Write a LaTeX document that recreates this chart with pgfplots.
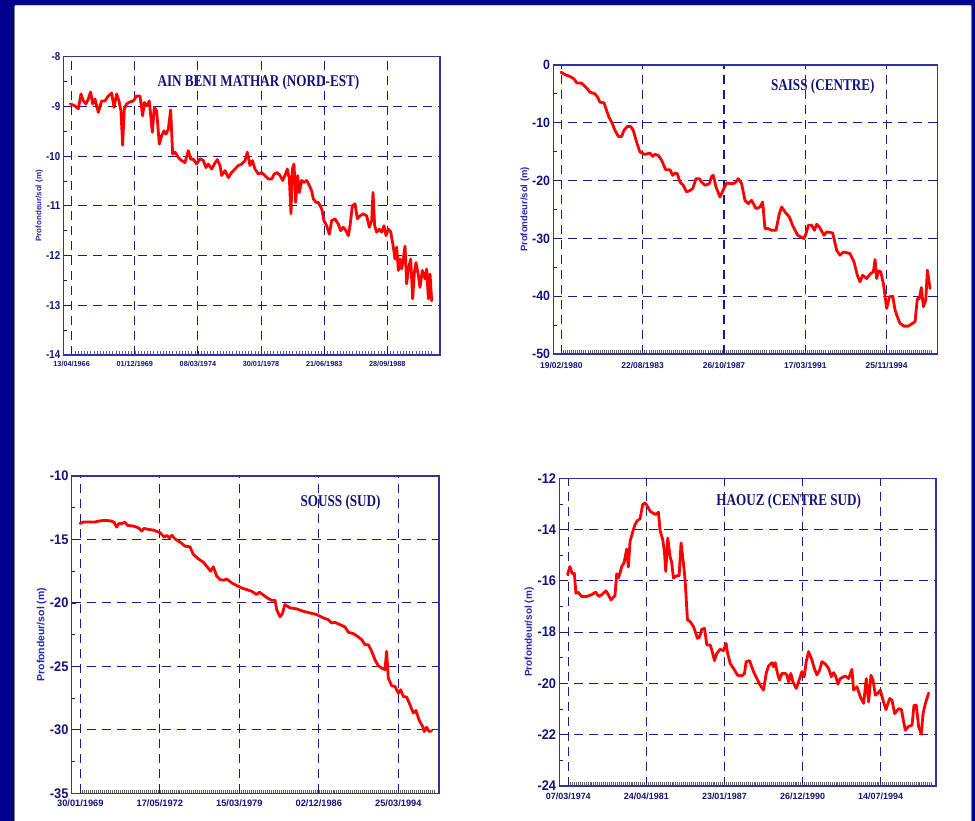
\documentclass[border=0pt]{standalone}
\usepackage{fontspec}
\setmainfont{Liberation Serif}
\setsansfont{Liberation Sans}
\usepackage{pgfplots}
\pgfplotsset{compat=1.18}
\definecolor{navyb}{RGB}{0,0,140}
\definecolor{boxblue}{RGB}{50,50,160}
\definecolor{gridblue}{RGB}{25,25,135}
\definecolor{lblnavy}{RGB}{20,20,120}
\definecolor{ylblue}{RGB}{40,40,170}
\pgfplotsset{
  chart/.style={
    scale only axis, anchor=south west,
    axis line style={boxblue, line width=1.3bp},
    grid=major,
    major grid style={gridblue, line width=1.1bp, dash pattern=on 9bp off 6bp},
    tick align=inside,
    xtick pos=left, ytick pos=left,
    major tick length=4bp, minor tick length=3.5bp,
    major tick style={gridblue, line width=0.8bp},
    minor x tick style={gray!75!black, line width=0.45bp},
    minor y tick style={gridblue, line width=0.8bp},
    /pgf/number format/assume math mode=true,
    ylabel={Profondeur/sol (m)},
    every axis plot post/.append style={red, mark=none, line width=2.8bp, line join=round, line cap=round},
  }
}
\newcommand{\ttl}[1]{\fontsize{16.5}{16.5}\selectfont\bfseries #1}
\begin{document}
\begin{tikzpicture}[x=1bp,y=1bp]
\useasboundingbox (0,0) rectangle (975,821);
\fill[navyb] (0,0) rectangle (975,821);
\fill[white] (15,0) rectangle (971,815);
\draw[cyan!40, line width=1bp] (15,815.5) -- (971,815.5);
\draw[gray, line width=1bp] (14.5,0) -- (14.5,815);
\draw[gray, line width=1bp] (971.5,0) -- (971.5,815);

% ---------- Panel 1: AIN BENI MATHAR
\begin{axis}[chart, at={(63.3bp,466bp)}, width=376.7bp, height=298.3bp,
  xmin=-0.132, xmax=5.834, ymin=-14, ymax=-8,
  xtick={0,1,2,3,4,5},
  xticklabels={13/04/1966,01/12/1969,08/03/1974,30/01/1978,21/06/1983,28/09/1988},
  minor xtick={0,0.05,...,5.70},
  ytick={-14,-13,...,-8}, minor ytick={-13.5,-12.5,...,-8.5},
  xticklabel style={font=\sffamily\bfseries\fontsize{7.3}{7.3}\selectfont, text=lblnavy, yshift=-3bp},
  yticklabel style={font=\sffamily\bfseries\fontsize{11.5}{11.5}\selectfont, text=lblnavy, xscale=0.85},
  ylabel style={font=\sffamily\bfseries\fontsize{8}{8}\selectfont, text=ylblue, at={(axis description cs:-0.064,0.5)}, anchor=center},
]
\addplot coordinates {(-0.02,-8.95) (0.053,-8.99) (0.106,-9.05) (0.148,-8.75) (0.185,-8.89) (0.227,-8.95) (0.264,-8.85) (0.301,-8.71) (0.333,-8.95) (0.370,-8.85) (0.422,-9.12) (0.475,-8.89) (0.528,-8.89) (0.581,-8.79) (0.634,-8.73) (0.671,-9.02) (0.713,-8.75) (0.750,-8.89) (0.781,-9.09) (0.808,-9.78) (0.834,-9.05) (0.871,-8.95) (0.924,-8.91) (0.977,-8.89) (1.030,-8.79) (1.082,-8.79) (1.125,-9.19) (1.151,-8.92) (1.188,-8.99) (1.230,-8.89) (1.278,-9.52) (1.309,-9.02) (1.346,-9.09) (1.389,-9.76) (1.426,-9.59) (1.462,-9.49) (1.494,-9.56) (1.531,-9.46) (1.568,-9.07) (1.600,-9.96) (1.637,-9.92) (1.690,-10.03) (1.742,-10.09) (1.795,-10.13) (1.848,-9.89) (1.885,-10.06) (1.927,-10.06) (1.980,-10.16) (2.033,-10.05) (2.086,-10.09) (2.128,-10.23) (2.165,-10.16) (2.218,-10.26) (2.260,-10.16) (2.307,-10.07) (2.350,-10.19) (2.376,-10.39) (2.429,-10.29) (2.482,-10.43) (2.534,-10.33) (2.587,-10.26) (2.640,-10.19) (2.693,-10.16) (2.746,-10.09) (2.782,-9.92) (2.825,-10.19) (2.862,-10.09) (2.904,-10.26) (2.957,-10.36) (3.009,-10.33) (3.062,-10.39) (3.115,-10.46) (3.168,-10.46) (3.210,-10.36) (3.258,-10.33) (3.300,-10.39) (3.342,-10.49) (3.379,-10.39) (3.416,-10.26) (3.448,-10.46) (3.474,-11.16) (3.495,-10.26) (3.522,-10.16) (3.548,-10.93) (3.580,-10.39) (3.606,-10.73) (3.643,-10.49) (3.680,-10.53) (3.722,-10.49) (3.765,-10.59) (3.801,-10.70) (3.828,-10.86) (3.870,-10.93) (3.907,-10.93) (3.960,-11.06) (3.997,-11.30) (4.039,-11.40) (4.081,-11.57) (4.118,-11.30) (4.171,-11.26) (4.224,-11.37) (4.261,-11.50) (4.303,-11.43) (4.345,-11.50) (4.382,-11.60) (4.409,-11.40) (4.446,-11.00) (4.488,-10.96) (4.525,-11.26) (4.567,-11.20) (4.620,-11.16) (4.673,-11.20) (4.715,-11.43) (4.752,-11.30) (4.773,-10.73) (4.799,-11.40) (4.831,-11.53) (4.873,-11.47) (4.910,-11.53) (4.947,-11.40) (4.979,-11.60) (5.016,-11.47) (5.053,-11.52) (5.095,-11.83) (5.121,-12.07) (5.148,-11.83) (5.174,-12.30) (5.201,-12.07) (5.227,-12.27) (5.253,-12.07) (5.280,-11.81) (5.306,-12.57) (5.333,-12.27) (5.370,-12.07) (5.401,-12.87) (5.428,-12.34) (5.454,-12.14) (5.491,-12.40) (5.517,-12.64) (5.554,-12.30) (5.597,-12.47) (5.623,-12.27) (5.650,-12.87) (5.676,-12.37) (5.702,-12.91)};
\node[text=lblnavy, xscale=0.80] at (rel axis cs:0.518,0.913) {\ttl{AIN BENI MATHAR (NORD-EST)}};
\end{axis}

% ---------- Panel 2: SAISS
\begin{axis}[chart, at={(553.3bp,467bp)}, width=384.4bp, height=289bp,
  xmin=-0.098, xmax=4.627, ymin=-50, ymax=0,
  xtick={0,1,2,3,4},
  xticklabels={19/02/1980,22/08/1983,26/10/1987,17/03/1991,25/11/1994},
  minor xtick={0,0.025,...,4.55},
  ytick={-50,-40,...,0}, minor ytick={-45,-35,...,-5},
  xticklabel style={font=\sffamily\bfseries\fontsize{8.5}{8.5}\selectfont, text=lblnavy, yshift=-5bp},
  yticklabel style={font=\sffamily\bfseries\fontsize{13.5}{13.5}\selectfont, text=lblnavy, xscale=0.92},
  ylabel style={font=\sffamily\bfseries\fontsize{9.5}{9.5}\selectfont, text=ylblue, at={(axis description cs:-0.074,0.5)}, anchor=center},
]
\addplot coordinates {(-0.004,-1.25) (0.045,-1.65) (0.107,-2.0) (0.156,-2.4) (0.189,-3.09) (0.25,-3.15) (0.303,-3.84) (0.352,-4.70) (0.414,-4.99) (0.447,-5.57) (0.475,-6.43) (0.525,-6.55) (0.557,-7.87) (0.586,-9.02) (0.619,-9.88) (0.660,-11.32) (0.701,-12.36) (0.742,-12.36) (0.770,-11.32) (0.811,-10.63) (0.852,-10.63) (0.885,-11.32) (0.926,-13.34) (0.967,-15.07) (1.029,-15.47) (1.090,-15.24) (1.123,-15.81) (1.152,-15.47) (1.193,-15.64) (1.234,-16.51) (1.283,-18.12) (1.336,-18.12) (1.369,-19.10) (1.398,-18.69) (1.426,-18.81) (1.459,-20.25) (1.5,-20.82) (1.541,-21.97) (1.582,-21.69) (1.615,-21.40) (1.656,-19.67) (1.697,-19.67) (1.725,-20.25) (1.766,-20.82) (1.820,-20.54) (1.848,-19.27) (1.869,-19.10) (1.902,-21.11) (1.951,-22.84) (1.992,-21.57) (2.033,-20.42) (2.094,-20.54) (2.135,-20.42) (2.176,-19.67) (2.217,-20.54) (2.258,-23.41) (2.299,-23.99) (2.340,-23.41) (2.393,-24.85) (2.443,-24.57) (2.475,-23.70) (2.504,-28.31) (2.545,-28.31) (2.586,-28.60) (2.639,-28.60) (2.680,-25.72) (2.709,-24.57) (2.750,-25.43) (2.803,-26.29) (2.852,-28.02) (2.906,-29.46) (2.984,-30.03) (3.008,-29.17) (3.037,-27.73) (3.078,-27.73) (3.111,-28.60) (3.139,-27.56) (3.172,-28.02) (3.230,-29.46) (3.262,-28.88) (3.336,-29.06) (3.385,-32.05) (3.426,-32.91) (3.467,-32.34) (3.549,-32.63) (3.598,-34.07) (3.639,-36.37) (3.672,-37.52) (3.705,-36.37) (3.754,-36.94) (3.803,-36.08) (3.836,-35.79) (3.857,-33.66) (3.877,-36.94) (3.898,-35.62) (3.926,-35.79) (3.959,-37.81) (4.0,-42.12) (4.033,-40.11) (4.074,-39.99) (4.103,-42.41) (4.131,-43.56) (4.164,-44.71) (4.213,-45.18) (4.266,-45.18) (4.303,-44.83) (4.348,-44.43) (4.377,-40.40) (4.402,-40.40) (4.426,-38.50) (4.451,-41.84) (4.480,-40.69) (4.5,-35.50) (4.533,-38.67)};
\node[text=lblnavy, xscale=0.80] at (rel axis cs:0.701,0.927) {\ttl{SAISS (CENTRE)}};
\end{axis}

% ---------- Panel 3: SOUSS
\begin{axis}[chart, at={(71.7bp,27.7bp)}, width=367.3bp, height=317.3bp,
  xmin=-0.109, xmax=4.512, ymin=-35, ymax=-10,
  xtick={0,1,2,3,4},
  xticklabels={30/01/1969,17/05/1972,15/03/1979,02/12/1986,25/03/1994},
  minor xtick={0,0.025,...,4.45},
  ytick={-35,-30,...,-10}, minor ytick={-32.5,-27.5,...,-12.5},
  xticklabel style={font=\sffamily\bfseries\fontsize{9.3}{9.3}\selectfont, text=lblnavy, yshift=-3bp},
  yticklabel style={font=\sffamily\bfseries\fontsize{14}{14}\selectfont, text=lblnavy, xscale=0.92},
  ylabel style={font=\sffamily\bfseries\fontsize{10.5}{10.5}\selectfont, text=ylblue, at={(axis description cs:-0.082,0.5)}, anchor=center},
]
\addplot coordinates {(-0.004,-13.74) (0.038,-13.63) (0.122,-13.63) (0.184,-13.63) (0.226,-13.55) (0.310,-13.50) (0.373,-13.53) (0.423,-13.63) (0.457,-14.03) (0.486,-13.74) (0.520,-13.76) (0.562,-13.63) (0.591,-13.89) (0.667,-13.95) (0.730,-14.08) (0.771,-14.34) (0.801,-14.13) (0.855,-14.21) (0.918,-14.26) (1.002,-14.47) (1.057,-14.82) (1.086,-14.68) (1.119,-14.87) (1.149,-14.68) (1.191,-14.95) (1.254,-15.21) (1.317,-15.53) (1.379,-15.58) (1.421,-16.18) (1.484,-16.53) (1.547,-16.79) (1.589,-17.11) (1.639,-17.50) (1.673,-17.16) (1.715,-17.89) (1.757,-18.16) (1.807,-18.21) (1.841,-18.11) (1.904,-18.42) (1.966,-18.63) (2.029,-18.82) (2.092,-18.95) (2.155,-19.08) (2.218,-19.34) (2.252,-19.16) (2.294,-19.34) (2.352,-19.61) (2.407,-19.79) (2.449,-19.79) (2.470,-20.53) (2.512,-21.11) (2.541,-20.84) (2.574,-20.13) (2.637,-20.39) (2.721,-20.47) (2.805,-20.66) (2.889,-20.79) (2.973,-20.92) (3.057,-21.18) (3.119,-21.32) (3.161,-21.58) (3.203,-21.53) (3.266,-21.71) (3.329,-21.89) (3.371,-22.32) (3.434,-22.42) (3.497,-22.68) (3.539,-22.89) (3.581,-23.29) (3.623,-23.29) (3.665,-23.82) (3.706,-24.47) (3.748,-24.95) (3.790,-25.13) (3.832,-25.26) (3.853,-23.82) (3.874,-25.92) (3.916,-26.53) (3.958,-26.58) (4.0,-27.11) (4.029,-26.84) (4.063,-27.37) (4.105,-27.42) (4.147,-28.03) (4.189,-28.68) (4.222,-28.47) (4.260,-29.21) (4.306,-29.74) (4.327,-30.13) (4.356,-29.79) (4.386,-30.13) (4.419,-30.08)};
\node[text=lblnavy, xscale=0.80] at (rel axis cs:0.732,0.916) {\ttl{SOUSS (SUD)}};
\end{axis}

% ---------- Panel 4: HAOUZ
\begin{axis}[chart, at={(559.3bp,35bp)}, width=376.7bp, height=307.7bp,
  xmin=-0.115, xmax=4.709, ymin=-24, ymax=-12,
  xtick={0,1,2,3,4},
  xticklabels={07/03/1974,24/04/1981,23/01/1987,26/12/1990,14/07/1994},
  minor xtick={0,0.025,...,4.65},
  ytick={-24,-22,...,-12}, minor ytick={-23,-21,...,-13},
  xticklabel style={font=\sffamily\bfseries\fontsize{9}{9}\selectfont, text=lblnavy, yshift=-3bp},
  yticklabel style={font=\sffamily\bfseries\fontsize{14}{14}\selectfont, text=lblnavy, xscale=0.92},
  ylabel style={font=\sffamily\bfseries\fontsize{10}{10}\selectfont, text=ylblue, at={(axis description cs:-0.080,0.5)}, anchor=center},
]
\addplot coordinates {(-0.009,-15.76) (0.021,-15.44) (0.051,-15.72) (0.077,-15.70) (0.098,-16.48) (0.128,-16.45) (0.171,-16.61) (0.235,-16.61) (0.299,-16.54) (0.350,-16.44) (0.393,-16.61) (0.427,-16.54) (0.483,-16.39) (0.513,-16.54) (0.547,-16.74) (0.598,-16.58) (0.620,-15.72) (0.641,-15.89) (0.662,-15.70) (0.684,-15.44) (0.714,-15.30) (0.748,-14.76) (0.769,-15.46) (0.791,-14.46) (0.821,-14.13) (0.855,-13.80) (0.885,-13.65) (0.919,-13.58) (0.953,-13.02) (0.983,-12.96) (1.013,-13.09) (1.047,-13.28) (1.090,-13.37) (1.124,-13.41) (1.154,-13.32) (1.175,-14.03) (1.209,-14.39) (1.231,-14.85) (1.248,-15.63) (1.274,-14.33) (1.303,-15.04) (1.325,-15.30) (1.346,-15.89) (1.389,-15.80) (1.419,-15.80) (1.444,-14.52) (1.474,-15.30) (1.496,-15.96) (1.526,-17.52) (1.560,-17.59) (1.603,-17.78) (1.654,-18.24) (1.679,-18.20) (1.709,-17.89) (1.744,-17.85) (1.774,-18.50) (1.816,-18.50) (1.838,-18.70) (1.872,-19.11) (1.902,-18.83) (1.944,-18.67) (1.987,-18.72) (2.021,-18.44) (2.038,-18.79) (2.073,-19.22) (2.115,-19.41) (2.167,-19.68) (2.222,-19.71) (2.256,-19.61) (2.278,-19.15) (2.321,-19.11) (2.372,-19.54) (2.415,-19.81) (2.457,-20.07) (2.5,-20.26) (2.534,-19.61) (2.564,-19.32) (2.607,-19.19) (2.628,-19.35) (2.650,-19.19) (2.679,-19.61) (2.705,-19.87) (2.735,-19.61) (2.778,-19.61) (2.799,-19.67) (2.821,-19.94) (2.850,-19.61) (2.876,-19.94) (2.919,-20.20) (2.957,-19.87) (2.991,-19.54) (3.021,-19.74) (3.047,-19.15) (3.077,-18.76) (3.120,-19.09) (3.150,-19.41) (3.184,-19.67) (3.218,-19.48) (3.248,-19.15) (3.291,-19.24) (3.333,-19.41) (3.368,-19.74) (3.397,-19.58) (3.427,-19.74) (3.453,-20.03) (3.483,-19.81) (3.547,-19.71) (3.590,-19.81) (3.632,-19.45) (3.654,-20.26) (3.697,-20.13) (3.739,-20.52) (3.782,-20.78) (3.816,-19.81) (3.846,-20.72) (3.876,-19.68) (3.902,-19.87) (3.932,-20.46) (3.962,-20.39) (3.996,-20.26) (4.030,-20.65) (4.068,-21.02) (4.115,-20.59) (4.145,-20.65) (4.179,-21.18) (4.231,-20.98) (4.265,-21.02) (4.316,-21.83) (4.359,-21.67) (4.402,-21.63) (4.427,-20.85) (4.457,-20.85) (4.487,-21.70) (4.521,-21.98) (4.543,-21.18) (4.573,-20.78) (4.615,-20.37)};
\node[text=lblnavy, xscale=0.80] at (rel axis cs:0.609,0.924) {\ttl{HAOUZ (CENTRE SUD)}};
\end{axis}
\end{tikzpicture}
\end{document}
